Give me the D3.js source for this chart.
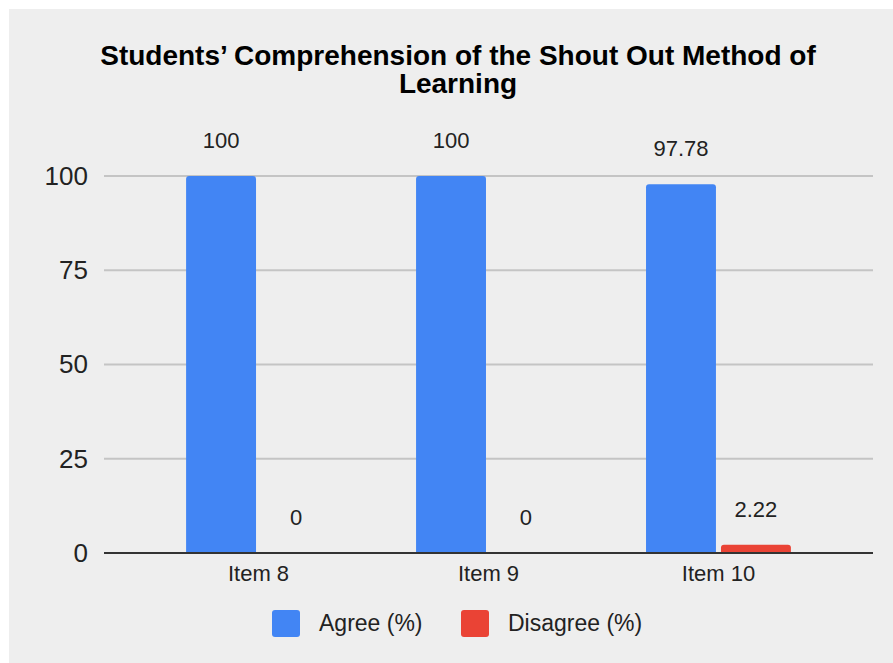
<!DOCTYPE html>
<html>
<head>
<meta charset="utf-8">
<script src="https://cdn.jsdelivr.net/npm/d3@7"></script>
<style>
  body { margin: 0; background: #fff; }
  text { font-family: "Liberation Sans", Arial, sans-serif; fill: #222; }
</style>
</head>
<body>
<div id="chart"></div>
<script>
// data
var items = ["Item 8", "Item 9", "Item 10"];
var series = ["Agree (%)", "Disagree (%)"];
var agree = [100, 100, 97.78];
var disagree = [0, 0, 2.22];
var labelsAgree = ["100", "100", "97.78"];
var labelsDisagree = ["0", "0", "2.22"];
var yTicks = [0, 25, 50, 75, 100];
var colors = ["#4285f4", "#ea4335"];

var W = 893, H = 663;
var margin = {top: 176, right: 20, bottom: 110, left: 104};
var width = 873 - margin.left,
    height = 553 - margin.top;

var svg = d3.select("#chart").append("svg")
    .attr("width", W)
    .attr("height", H);

// background panel
svg.append("rect")
  .attr("x", 9).attr("y", 9)
  .attr("width", W - 9).attr("height", H - 9)
  .attr("fill", "#eeeeee");

// title (two lines, like the reference)
var title = svg.append("text")
  .attr("text-anchor", "middle")
  .style("font-size", "28px")
  .style("font-weight", "bold")
  .style("fill", "#000");
title.append("tspan").attr("x", 458).attr("y", 65)
  .text("Students\u2019 Comprehension of the Shout Out Method of");
title.append("tspan").attr("x", 458).attr("y", 93).text("Learning");

var g = svg.append("g")
  .attr("transform", "translate(" + margin.left + "," + margin.top + ")");

// scales
var x0 = d3.scaleBand().domain(items).range([0, width])
  .paddingInner(0.37).paddingOuter(0.357);
var x1 = d3.scaleBand().domain(series).range([0, x0.bandwidth()])
  .paddingInner(0.067);
var y = d3.scaleLinear().domain([0, 100]).range([height, 0]);

// gridlines
g.append("g")
  .selectAll("line")
  .data(yTicks.filter(function(d) { return d > 0; }))
  .enter().append("line")
    .attr("x1", 0).attr("x2", width)
    .attr("y1", function(d) { return y(d); })
    .attr("y2", function(d) { return y(d); })
    .attr("stroke", "#c4c4c4")
    .attr("stroke-width", 2);

// y axis labels
var yAxis = d3.axisLeft(y).tickValues(yTicks).tickSize(0).tickPadding(16);
g.append("g")
  .call(yAxis)
  .call(function(a) { a.select(".domain").remove(); })
  .selectAll("text")
    .style("font-size", "26px")
    .style("font-family", "'Liberation Sans', Arial, sans-serif")
    .attr("fill", "#222");

// bars
var rows = items.map(function(it, i) {
  return {item: it, vals: [
    {s: series[0], v: agree[i], lab: labelsAgree[i]},
    {s: series[1], v: disagree[i], lab: labelsDisagree[i]}
  ]};
});

var groups = g.selectAll(".grp")
  .data(rows)
  .enter().append("g")
    .attr("class", "grp")
    .attr("transform", function(d) { return "translate(" + x0(d.item) + ",0)"; });

groups.selectAll("path")
  .data(function(d) { return d.vals.filter(function(v) { return v.v > 0; }); })
  .enter().append("path")
    .attr("fill", function(d) { return colors[series.indexOf(d.s)]; })
    .attr("d", function(d) {
      var bx = x1(d.s), bw = x1.bandwidth(), top = y(d.v), r = 3;
      return "M" + bx + "," + height +
        "V" + (top + r) +
        "Q" + bx + "," + top + " " + (bx + r) + "," + top +
        "H" + (bx + bw - r) +
        "Q" + (bx + bw) + "," + top + " " + (bx + bw) + "," + (top + r) +
        "V" + height + "Z";
    });

groups.selectAll(".lab")
  .data(function(d) { return d.vals; })
  .enter().append("text")
    .attr("class", "lab")
    .attr("text-anchor", "middle")
    .attr("x", function(d) { return x1(d.s) + x1.bandwidth() / 2; })
    .attr("y", function(d) { return y(d.v) - 28; })
    .style("font-size", "22px")
    .text(function(d) { return d.lab; });

// baseline
g.append("line")
  .attr("x1", 0).attr("x2", width)
  .attr("y1", y(0)).attr("y2", y(0))
  .attr("stroke", "#333").attr("stroke-width", 2);

// x axis labels
var xAxis = d3.axisBottom(x0).tickSize(0).tickPadding(12);
g.append("g")
  .attr("transform", "translate(0," + height + ")")
  .call(xAxis)
  .call(function(a) { a.select(".domain").remove(); })
  .selectAll("text")
    .style("font-size", "22px")
    .style("font-family", "'Liberation Sans', Arial, sans-serif")
    .attr("fill", "#222");

// legend
var legX = [272, 461];
var leg = svg.selectAll(".leg")
  .data(series)
  .enter().append("g")
    .attr("class", "leg")
    .attr("transform", function(d, i) { return "translate(" + legX[i] + ",610)"; });
leg.append("rect")
  .attr("width", 28).attr("height", 27).attr("rx", 3)
  .attr("fill", function(d, i) { return colors[i]; });
leg.append("text")
  .attr("x", 47).attr("y", 21)
  .style("font-size", "23px")
  .text(function(d) { return d; });
</script>
</body>
</html>
